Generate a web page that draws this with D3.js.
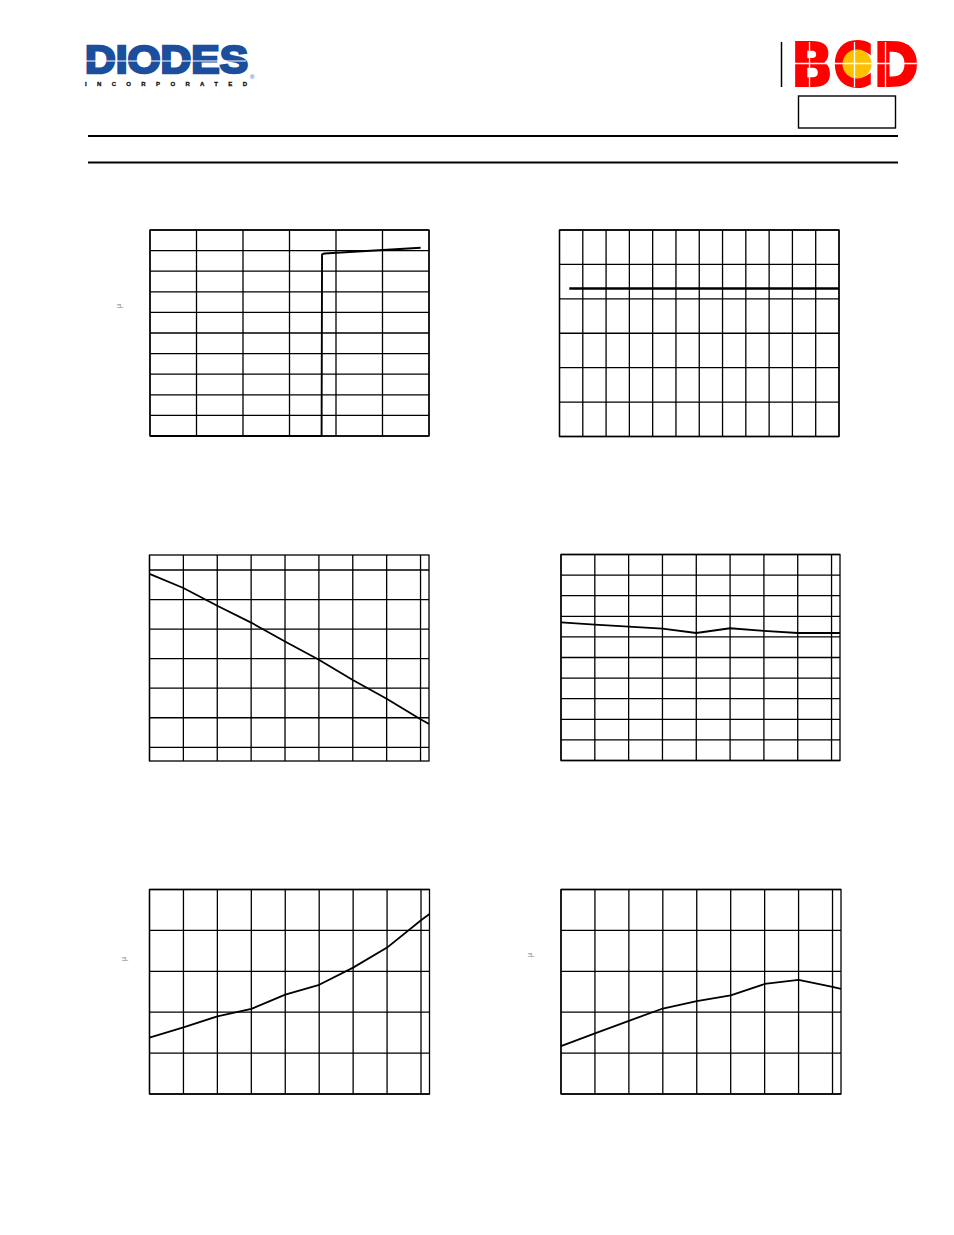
<!DOCTYPE html>
<html>
<head>
<meta charset="utf-8">
<script src="https://cdn.jsdelivr.net/npm/d3@7"></script>
<style>
  html, body { margin: 0; padding: 0; background: #fff; }
  svg { display: block; }
</style>
</head>
<body>
<svg id="page" width="954" height="1235"></svg>
<script>
// ---------- DATA ----------
// Chart 1 (top-left): step response
const c1xGrid = [0, 1, 2, 3, 4, 5, 6];
const c1yGrid = [0, 1, 2, 3, 4, 5, 6, 7, 8, 9, 10];
const c1x = [0, 3.69, 3.70, 3.75, 5.82];
const c1y = [0, 0, 8.82, 8.86, 9.14];

// Chart 2 (top-right): flat line
const c2xGrid = [0, 1, 2, 3, 4, 5, 6, 7, 8, 9, 10, 11, 12];
const c2yGrid = [0, 1, 2, 3, 4, 5, 6];
const c2x = [0.42, 2, 4, 6, 8, 10, 12];
const c2y = [4.30, 4.30, 4.30, 4.30, 4.30, 4.30, 4.30];

// Temperature axis shared by the four lower charts
const tempGrid = [-40, -20, 0, 20, 40, 60, 80, 100, 120];
const temps = [-40, -20, 0, 20, 40, 60, 80, 100, 120, 125];

// Chart 3 (middle-left)
const c3yGrid = [0, 1, 2, 3, 4, 5, 6];
const c3y = [5.87, 5.39, 4.79, 4.22, 3.58, 2.96, 2.28, 1.64, 0.95, 0.79];

// Chart 4 (middle-right)
const c4yGrid = [0, 1, 2, 3, 4, 5, 6, 7, 8, 9, 10];
const c4y = [6.71, 6.60, 6.50, 6.40, 6.19, 6.42, 6.29, 6.19, 6.19, 6.19];

// Chart 5 (bottom-left)
const c5yGrid = [0, 1, 2, 3, 4, 5];
const c5y = [1.38, 1.63, 1.90, 2.08, 2.43, 2.67, 3.09, 3.58, 4.25, 4.40];

// Chart 6 (bottom-right)
const c6yGrid = [0, 1, 2, 3, 4, 5];
const c6y = [1.17, 1.48, 1.79, 2.09, 2.27, 2.41, 2.69, 2.79, 2.62, 2.57];

// ---------- DRAW ----------
const svg = d3.select("#page");
svg.append("rect").attr("width", 954).attr("height", 1235).attr("fill", "#fff");

// Header: DIODES logo
const logo = svg.append("g");
logo.append("text")
  .attr("x", 85).attr("y", 73)
  .attr("font-family", "Liberation Sans, Arial, sans-serif")
  .attr("font-weight", "bold")
  .attr("font-size", 38)
  .attr("textLength", 163).attr("lengthAdjust", "spacingAndGlyphs")
  .attr("fill", "#1b4f9e").attr("stroke", "#1b4f9e").attr("stroke-width", 2.4)
  .text("DIODES");
logo.append("line").attr("x1", 86).attr("x2", 246).attr("y1", 61).attr("y2", 61)
  .attr("stroke", "#fff").attr("stroke-width", 1.2);
logo.append("text")
  .attr("x", 250).attr("y", 79)
  .attr("font-family", "Liberation Sans, Arial, sans-serif")
  .attr("font-size", 6).attr("fill", "#1b4f9e").text("®");
logo.append("text")
  .attr("x", 85).attr("y", 86)
  .attr("font-family", "Liberation Sans, Arial, sans-serif")
  .attr("font-weight", "bold")
  .attr("font-size", 6)
  .attr("textLength", 162).attr("lengthAdjust", "spacing")
  .attr("fill", "#111").attr("stroke", "#111").attr("stroke-width", 0.3)
  .text("INCORPORATED");

// BCD logo
const bcd = svg.append("g");
bcd.append("line").attr("x1", 781.5).attr("x2", 781.5).attr("y1", 42).attr("y2", 87)
  .attr("stroke", "#000").attr("stroke-width", 1.5);
bcd.append("text")
  .attr("x", 791).attr("y", 86)
  .attr("font-family", "DejaVu Sans, sans-serif")
  .attr("font-weight", "bold")
  .attr("font-size", 60)
  .attr("textLength", 128).attr("lengthAdjust", "spacingAndGlyphs")
  .attr("fill", "#ff0000").attr("stroke", "#ff0000").attr("stroke-width", 2)
  .text("BCD");
bcd.append("circle").attr("cx", 857).attr("cy", 64).attr("r", 14.5).attr("fill", "#ffc000");
[[809.5, 42, 809.5, 87], [854.5, 42, 854.5, 87], [885.5, 42, 885.5, 87], [790, 63.5, 920, 63.5]]
  .forEach(([a, b, c, d]) => bcd.append("line")
    .attr("x1", a).attr("y1", b).attr("x2", c).attr("y2", d)
    .attr("stroke", "#fff").attr("stroke-width", 1.3));

// Box under BCD logo
svg.append("rect").attr("x", 798.5).attr("y", 96).attr("width", 97).attr("height", 32)
  .attr("fill", "none").attr("stroke", "#000").attr("stroke-width", 1.4);

// Header rules
[136, 162.5].forEach(y => svg.append("line")
  .attr("x1", 88).attr("x2", 898).attr("y1", y).attr("y2", y)
  .attr("stroke", "#000").attr("stroke-width", 2));

// Generic chart drawer
function chart(opt) {
  const g = svg.append("g").attr("transform", `translate(${opt.x},${opt.y})`);
  const x = d3.scaleLinear().domain(opt.xDomain).range([0, opt.w]);
  const y = d3.scaleLinear().domain(opt.yDomain).range([opt.h, 0]);
  // vertical grid
  g.append("g").selectAll("line").data(opt.xGrid).join("line")
    .attr("x1", d => x(d)).attr("x2", d => x(d))
    .attr("y1", 0).attr("y2", opt.h)
    .attr("stroke", "#000").attr("stroke-width", 1.3);
  // horizontal grid
  g.append("g").selectAll("line").data(opt.yGrid).join("line")
    .attr("x1", 0).attr("x2", opt.w)
    .attr("y1", d => y(d)).attr("y2", d => y(d))
    .attr("stroke", "#000").attr("stroke-width", 1.3);
  // frame
  g.append("rect").attr("x", 0).attr("y", 0).attr("width", opt.w).attr("height", opt.h)
    .attr("fill", "none").attr("stroke", "#000").attr("stroke-width", 1.3);
  // curve
  const line = d3.line().x(d => x(d[0])).y(d => y(d[1]));
  g.append("path").datum(opt.xs.map((v, i) => [v, opt.ys[i]]))
    .attr("d", line).attr("fill", "none")
    .attr("stroke", "#000").attr("stroke-width", opt.lw || 1.7)
    .attr("stroke-linejoin", "round");
  if (opt.mu) {
    svg.append("text")
      .attr("transform", `translate(${opt.mu[0]},${opt.mu[1]}) rotate(-90)`)
      .attr("text-anchor", "middle")
      .attr("font-family", "Liberation Sans, Arial, sans-serif")
      .attr("font-size", 7).attr("fill", "#777").text("µ");
  }
}

chart({ x: 150, y: 230, w: 279, h: 206, xDomain: [0, 6], yDomain: [0, 10],
        xGrid: c1xGrid, yGrid: c1yGrid, xs: c1x, ys: c1y, lw: 1.9, mu: [121, 306] });
chart({ x: 559.5, y: 230, w: 279.5, h: 206.5, xDomain: [0, 12], yDomain: [0, 6],
        xGrid: c2xGrid, yGrid: c2yGrid, xs: c2x, ys: c2y, lw: 2.4 });
chart({ x: 149.5, y: 555, w: 279.5, h: 206, xDomain: [-40, 125], yDomain: [-0.464, 6.507],
        xGrid: tempGrid, yGrid: c3yGrid, xs: temps, ys: c3y, lw: 1.8 });
chart({ x: 561, y: 554.5, w: 279, h: 206, xDomain: [-40, 125], yDomain: [0, 10],
        xGrid: tempGrid, yGrid: c4yGrid, xs: temps, ys: c4y, lw: 1.8 });
chart({ x: 149.5, y: 889.5, w: 280, h: 204.5, xDomain: [-40, 125], yDomain: [0, 5],
        xGrid: tempGrid, yGrid: c5yGrid, xs: temps, ys: c5y, lw: 1.8, mu: [126, 959] });
chart({ x: 561, y: 889.5, w: 280, h: 204.5, xDomain: [-40, 125], yDomain: [0, 5],
        xGrid: tempGrid, yGrid: c6yGrid, xs: temps, ys: c6y, lw: 1.8, mu: [532, 955] });
</script>
</body>
</html>
